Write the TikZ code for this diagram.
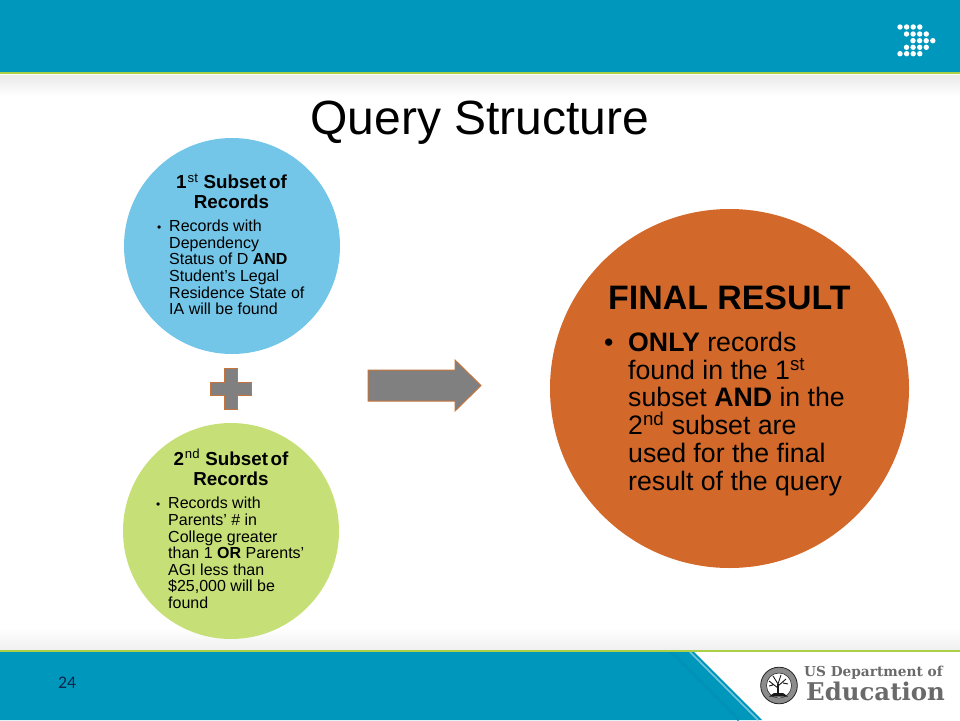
\documentclass[tikz,border=0pt]{standalone}
\usepackage{fontspec}
\setmainfont{Liberation Sans}
\newfontfamily\slidenum{Carlito}
\newfontfamily\logoserif{DejaVu Serif}
\definecolor{bandteal}{HTML}{0097BD}
\definecolor{bandline}{HTML}{A9D046}
\definecolor{subsetblue}{HTML}{73C6E7}
\definecolor{subsetgreen}{HTML}{C6E077}
\definecolor{resultorange}{HTML}{D2692B}
\definecolor{markgray}{HTML}{808080}
\definecolor{markedge}{HTML}{C4743C}
\definecolor{logogray}{HTML}{6A6A6A}
\definecolor{numnavy}{HTML}{10264A}
\tikzset{
  smalltext/.style={inner sep=0pt, align=left, font=\fontsize{16}{16.6}\selectfont},
  smallhead/.style={inner sep=0pt, align=center, font=\fontsize{18.8}{20.5}\selectfont\bfseries},
  bigtext/.style={inner sep=0pt, align=left, font=\fontsize{26.7}{27.7}\selectfont},
  markshape/.style={fill=markgray, draw=markedge, line width=1pt},
}
\begin{document}
\begin{tikzpicture}[x=1pt, y=-1pt]
  \useasboundingbox (0,0) rectangle (960,720);

  % --- 1. bands ---
  \shade[top color=black!8, bottom color=white] (0,75) rectangle (960,96);
  \shade[top color=white, bottom color=black!6] (0,628) rectangle (960,650);
  \fill[bandteal] (0,0) rectangle (960,72);
  \fill[bandline] (0,72) rectangle (960,74);
  \fill[bandteal] (0,651) -- (693,651) -- (762,720) -- (0,720) -- cycle;
  \draw[bandteal!55!white, line width=1.5pt] (689,651) -- (758,720);
  \draw[bandteal!96!black, line width=3pt] (670,651) -- (739,720);
  \fill[bandline] (0,649.5) rectangle (960,651.5);

  % dots in the top band
  \foreach \row/\first in {27/900, 34/906.5, 40.7/913, 47.3/906.5, 53.7/900}
    \foreach \dotnum in {0,...,3}
      \fill[white] ({\first+\dotnum*6.6},\row) circle (2.7);

  % --- 2. title ---
  \node[inner sep=0pt, font=\fontsize{48}{48}\selectfont] (title) at (480,123) {Query Structure};

  % --- 3. circles ---
  \fill[subsetblue] (232,246) circle (108);
  \fill[subsetgreen] (231,531) circle (108);
  \fill[resultorange] (729.5,388.5) circle (179.5);

  % --- 4. first subset ---
  \node[smallhead, anchor=north] (headone) at (231.5,173.5)
    {1\textsuperscript{\mdseries\kern1pt st} Subset\kern-2.5pt{} of\\Records};
  \node[smalltext, anchor=north west] (bulletone) at (157,220) {\vphantom{Rd}\fontsize{12}{12}\selectfont•};
  \node[smalltext, anchor=north west] (bodyone) at (169,220)
    {Records with\\Dependency\\Status of D \textbf{AND}\\Student's Legal\\Residence State of\\IA will be found};

  % --- 5. second subset ---
  \node[smallhead, anchor=north] (headtwo) at (231,449)
    {2\textsuperscript{\mdseries\kern1pt nd} Subset\kern-2.5pt{} of\\Records};
  \node[smalltext, anchor=north west] (bullettwo) at (156,497) {\vphantom{Rd}\fontsize{12}{12}\selectfont•};
  \node[smalltext, anchor=north west] (bodytwo) at (168,497)
    {Records with\\Parents’ \# in\\College greater\\than 1 \textbf{OR} Parents’\\AGI less than\\\$25,000 will be\\found};

  % --- 6. plus and arrow ---
  \draw[markshape] (224,368) -- (237,368) -- (237,382) -- (251,382) -- (251,395) -- (237,395)
    -- (237,409) -- (224,409) -- (224,395) -- (210,395) -- (210,382) -- (224,382) -- cycle;
  \draw[markshape] (368,370) -- (455,370) -- (455,360) -- (481,385.5) -- (455,411) -- (455,401)
    -- (368,401) -- cycle;

  % --- 7. final result ---
  \node[inner sep=0pt, anchor=base west, font=\fontsize{33.9}{33.9}\selectfont\bfseries] (headfinal)
    at (608,309) {FINAL RESULT};
  \node[bigtext, anchor=north west] (bulletfinal) at (604,332) {\vphantom{Rd}•};
  \node[bigtext, anchor=north west] (bodyfinal) at (628,332)
    {\textbf{ONLY} records\\found in the 1\textsuperscript{st}\\subset \textbf{AND} in the\\2\textsuperscript{nd} subset are\\used for the final\\result of the query};

  % --- 8. page number and logo ---
  \node[inner sep=0pt, text=numnavy, font=\slidenum\fontsize{17.7}{18}\selectfont] (pagenum) at (67,683) {24};

  \fill[black!45] (779,685.5) circle (18.5);
  \draw[black!85, line width=.8pt] (779,685.5) circle (18.3);
  \draw[black!80, line width=.6pt] (779,685.5) circle (12.5);
  \fill[white] (779,685.5) circle (12);
  \draw[black!90, line width=1.6pt] (778,695) -- (778,684);
  \draw[black!90, line width=.9pt] (778,688) -- (769,681) (778,686) -- (786,679) (778,684) -- (773,676)
    (778,684) -- (781,675) (773,685) -- (769,686) (783,683) -- (788,684);
  \fill[black!90] (769,696.5) -- (788,696.5) -- (783,693) -- (774,693) -- cycle;
  \node[inner sep=0pt, anchor=base west, text=logogray, font=\logoserif\fontsize{13.7}{15}\selectfont\bfseries] (logotop)
    at (804,676) {US Department of};
  \node[inner sep=0pt, anchor=base west, text=logogray, font=\logoserif\fontsize{24.4}{26}\selectfont\bfseries] (logoname)
    at (806,700) {Education};
\end{tikzpicture}
\end{document}
